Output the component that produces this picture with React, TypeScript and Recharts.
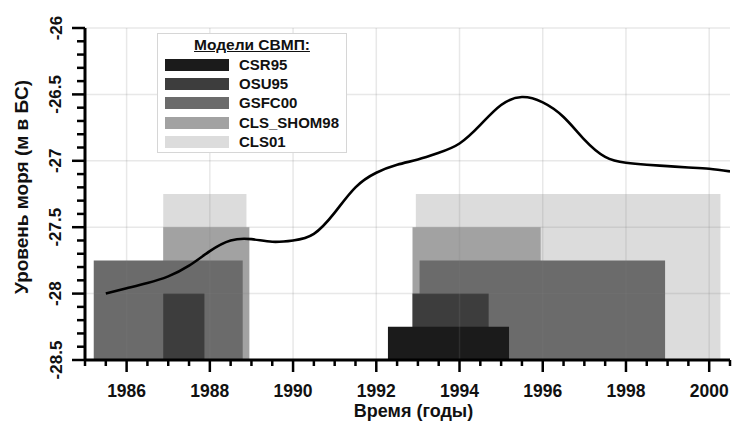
import React from 'react';
import { ComposedChart, Line, XAxis, YAxis, ReferenceArea, ReferenceLine, Legend } from 'recharts';

// ---- data ----
const models = ['CSR95', 'OSU95', 'GSFC00', 'CLS_SHOM98', 'CLS01'];
const modelColors = ['#1b1b1b', '#3d3d3d', '#6b6b6b', '#a2a2a2', '#dcdcdc'];
const legendTitle = 'Модели СВМП:';

// model periods (drawn in this order, back to front)
const periodModel = [4, 4, 3, 3, 2, 2, 1, 1, 0];
const periodStart = [1986.88, 1992.95, 1986.88, 1992.87, 1985.21, 1993.04, 1986.88, 1992.87, 1992.28];
const periodEnd = [1988.88, 2000.27, 1988.95, 1995.95, 1988.79, 1998.94, 1987.87, 1994.7, 1995.19];
const periodTop = [-27.25, -27.25, -27.5, -27.5, -27.75, -27.75, -28, -28, -28.25];
const baseLevel = -28.5;

const years = [1985.5, 1986, 1986.5, 1987, 1987.5, 1988, 1988.5, 1989, 1989.5, 1990, 1990.5, 1991, 1991.5, 1992, 1992.5, 1993, 1993.5, 1994, 1994.5, 1995, 1995.5, 1996, 1996.5, 1997, 1997.5, 1998, 1998.5, 1999, 1999.5, 2000, 2000.5];
const seaLevel = [-28.0, -27.96, -27.92, -27.87, -27.79, -27.68, -27.6, -27.59, -27.61, -27.6, -27.55, -27.39, -27.2, -27.09, -27.03, -26.99, -26.94, -26.87, -26.73, -26.58, -26.52, -26.56, -26.67, -26.84, -26.97, -27.015, -27.03, -27.04, -27.05, -27.06, -27.08];

const xTicks = [1985, 1985.5, 1986, 1986.5, 1987, 1987.5, 1988, 1988.5, 1989, 1989.5, 1990, 1990.5, 1991, 1991.5, 1992, 1992.5, 1993, 1993.5, 1994, 1994.5, 1995, 1995.5, 1996, 1996.5, 1997, 1997.5, 1998, 1998.5, 1999, 1999.5, 2000, 2000.5];
const xMajorTicks = [1986, 1988, 1990, 1992, 1994, 1996, 1998, 2000];
const yTicks = [-28.5, -28.4, -28.3, -28.2, -28.1, -28, -27.9, -27.8, -27.7, -27.6, -27.5, -27.4, -27.3, -27.2, -27.1, -27, -26.9, -26.8, -26.7, -26.6, -26.5, -26.4, -26.3, -26.2, -26.1, -26];
const yMajorTicks = [-28.5, -28, -27.5, -27, -26.5, -26];
const yGridLines = [-28, -27.5, -27, -26.5, -26];

const xTitle = 'Время (годы)';
const yTitle = 'Уровень моря (м в БС)';

const chartData = years.map((y, i) => ({ year: y, level: seaLevel[i] }));

const FONT = "'Liberation Sans', Arial, sans-serif";

const isIn = (arr: number[], v: number) => arr.some((a) => Math.abs(a - v) < 1e-6);

const XTick = (props: any) => {
  const { x, y, payload } = props;
  const v = payload.value;
  const major = isIn(xMajorTicks, v);
  return (
    <g>
      <line x1={x} x2={x} y1={y} y2={y + (major ? 12 : 6)} stroke="#000" strokeWidth={2.5} />
      {major && (
        <text x={x} y={y + 36.5} textAnchor="middle" fontFamily={FONT} fontWeight="bold" fontSize={17.5} fill="#111">
          {v}
        </text>
      )}
    </g>
  );
};

const YTick = (props: any) => {
  const { x, y, payload } = props;
  const v = payload.value;
  const major = isIn(yMajorTicks, v);
  const lx = 61.5;
  return (
    <g>
      <line x1={x - (major ? 13 : 8)} x2={x} y1={y} y2={y} stroke="#000" strokeWidth={2.5} />
      {major && (
        <text x={lx} y={y} transform={`rotate(-90, ${lx}, ${y})`} textAnchor="middle" fontFamily={FONT} fontWeight="bold" fontSize={17} fill="#111">
          {v}
        </text>
      )}
    </g>
  );
};

const LegendBox = () => (
  <div
    style={{
      position: 'relative',
      width: 190,
      height: 120,
      boxSizing: 'border-box',
      border: '1px solid #d6d6d6',
      background: '#fff',
      fontFamily: FONT,
      fontWeight: 'bold',
      color: '#111',
    }}
  >
    <div style={{ position: 'absolute', top: 2, left: 0, width: '100%', textAlign: 'center', fontSize: 15.5, lineHeight: '18px', textDecoration: 'underline' }}>
      {legendTitle}
    </div>
    {models.map((m, i) => {
      const cy = 30.5 + i * 19.4;
      return (
        <React.Fragment key={m}>
          <div style={{ position: 'absolute', left: 7, top: cy - 6, width: 64, height: 12, background: modelColors[i] }} />
          <div style={{ position: 'absolute', left: 81, top: cy - 9, fontSize: 15, lineHeight: '18px', whiteSpace: 'nowrap' }}>{m}</div>
        </React.Fragment>
      );
    })}
  </div>
);

export default function App() {
  return (
    <div style={{ position: 'absolute', left: 0, top: 0, width: 744, height: 421, background: '#fff' }}>
      <ComposedChart width={744} height={421} data={chartData} margin={{ top: 28, right: 14, bottom: 0, left: 0 }}>
        <XAxis
          dataKey="year"
          type="number"
          domain={[1985, 2000.5]}
          ticks={xTicks}
          interval={0}
          tickSize={0}
          tickMargin={0}
          tickLine={false}
          axisLine={{ stroke: '#000', strokeWidth: 3 }}
          tick={<XTick />}
          height={61}
          allowDataOverflow
        />
        <YAxis
          type="number"
          domain={[-28.5, -26]}
          ticks={yTicks}
          interval={0}
          tickSize={0}
          tickMargin={0}
          tickLine={false}
          axisLine={{ stroke: '#000', strokeWidth: 3 }}
          tick={<YTick />}
          width={85}
          allowDataOverflow
        />
        {periodModel.map((mi, i) => (
          <ReferenceArea
            key={'p' + i}
            x1={periodStart[i]}
            x2={periodEnd[i]}
            y1={baseLevel}
            y2={periodTop[i]}
            fill={modelColors[mi]}
            fillOpacity={1}
            stroke="none"
            zIndex={100}
          />
        ))}
        {xMajorTicks.map((v) => (
          <ReferenceLine key={'gx' + v} x={v} stroke="#808080" strokeOpacity={0.18} strokeWidth={1.5} zIndex={150} />
        ))}
        {yGridLines.map((v) => (
          <ReferenceLine key={'gy' + v} y={v} stroke="#808080" strokeOpacity={0.18} strokeWidth={1.5} zIndex={150} />
        ))}
        <Line
          dataKey="level"
          type="natural"
          stroke="#000"
          strokeWidth={2.6}
          dot={false}
          activeDot={false}
          isAnimationActive={false}
          zIndex={400}
        />
        <Legend
          verticalAlign="middle"
          align="center"
          layout="horizontal"
          wrapperStyle={{ left: 157, top: 33, width: 190, height: 120 }}
          content={() => <LegendBox />}
        />
        <text x={413.5} y={417} textAnchor="middle" fontFamily={FONT} fontWeight="bold" fontSize={18} fill="#111">
          {xTitle}
        </text>
        <text x={28} y={187} transform="rotate(-90, 28, 187)" textAnchor="middle" fontFamily={FONT} fontWeight="bold" fontSize={19} fill="#111">
          {yTitle}
        </text>
      </ComposedChart>
    </div>
  );
}
